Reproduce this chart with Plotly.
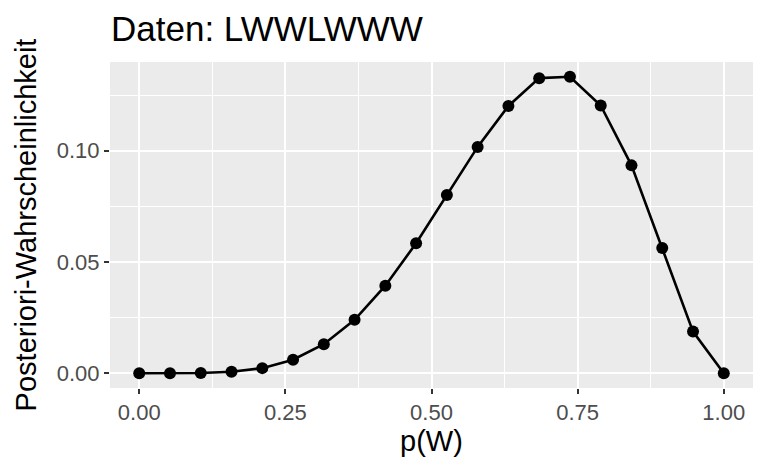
import plotly.graph_objects as go

p_grid = [0.0, 0.05263, 0.10526, 0.15789, 0.21053, 0.26316, 0.31579, 0.36842, 0.42105,
          0.47368, 0.52632, 0.57895, 0.63158, 0.68421, 0.73684, 0.78947, 0.84211,
          0.89474, 0.94737, 1.0]
posterior = [0.0, 0.000003, 0.00009, 0.00062, 0.00227, 0.00605, 0.0130, 0.0240, 0.0393,
             0.0584, 0.0801, 0.1017, 0.1201, 0.1326, 0.1332, 0.1203, 0.0934,
             0.0563, 0.0187, 0.0]
x_ticks = [0.0, 0.25, 0.5, 0.75, 1.0]
x_ticklabels = ["0.00", "0.25", "0.50", "0.75", "1.00"]
y_ticks = [0.0, 0.05, 0.10]
y_ticklabels = ["0.00", "0.05", "0.10"]

FONT = "Liberation Sans, Arial, sans-serif"

fig = go.Figure()
fig.add_trace(go.Scatter(
    x=p_grid, y=posterior, mode="lines+markers",
    line=dict(color="black", width=2.6),
    marker=dict(color="black", size=12),
    showlegend=False, hoverinfo="skip"))

ymax = max(posterior)
fig.update_layout(
    width=760, height=466,
    paper_bgcolor="white", plot_bgcolor="#EBEBEB",
    margin=dict(l=102, r=15, t=54, b=86),
    font=dict(family=FONT),
    annotations=[dict(text="Daten: LWWLWWW", xref="paper", yref="paper",
                      x=0, y=1, xanchor="left", yanchor="bottom",
                      xshift=-1, yshift=12, showarrow=False,
                      font=dict(size=35, color="black", family=FONT))],
)
fig.update_xaxes(
    range=[-0.05, 1.05], tickmode="array", tickvals=x_ticks, ticktext=x_ticklabels,
    ticks="outside", ticklen=5, tickwidth=2, tickcolor="#333333",
    tickfont=dict(size=22, color="#4D4D4D"),
    showgrid=True, gridcolor="white", gridwidth=2,
    minor=dict(tickmode="array", tickvals=[0.125, 0.375, 0.625, 0.875],
               showgrid=True, gridcolor="white", gridwidth=1, ticks=""),
    zeroline=False, showline=False,
    title=dict(text="p(W)", font=dict(size=29, color="black"), standoff=6),
)
fig.update_yaxes(
    range=[-0.05 * ymax, 1.05 * ymax], tickmode="array", tickvals=y_ticks,
    ticktext=y_ticklabels,
    ticks="outside", ticklen=5, tickwidth=2, tickcolor="#333333",
    tickfont=dict(size=22, color="#4D4D4D"),
    showgrid=True, gridcolor="white", gridwidth=2,
    minor=dict(tickmode="array", tickvals=[0.025, 0.075, 0.125],
               showgrid=True, gridcolor="white", gridwidth=1, ticks=""),
    zeroline=False, showline=False,
    title=dict(text="Posteriori-Wahrscheinlichkeit", font=dict(size=29, color="black"),
               standoff=11),
)
fig.write_html("out.html")
